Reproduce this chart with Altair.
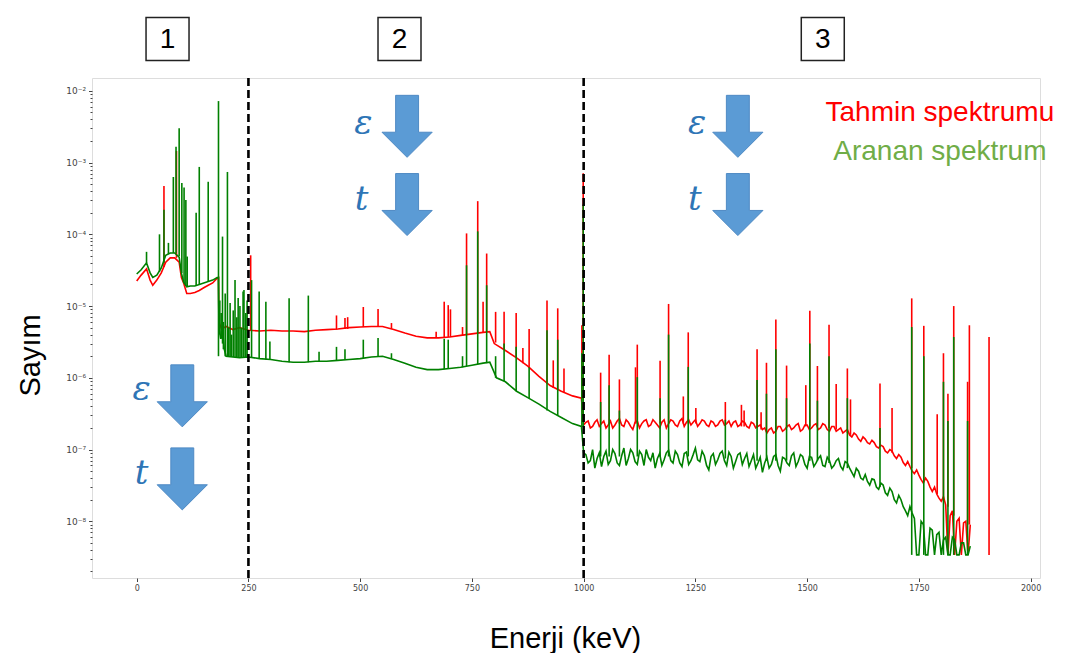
import altair as alt
import pandas as pd

# ---------------- data (energy in keV, counts) ----------------
E_LOW = [0, 10, 22, 30, 36, 45, 55, 65, 75, 85, 95, 100, 105, 112, 120, 130, 140, 150, 160, 170, 180, 183]
RED_LOW = [2.24e-5, 2.7e-5, 3.3e-5, 2.3e-5, 1.95e-5, 2.3e-5, 2.9e-5, 4.1e-5, 4.7e-5, 4.7e-5, 4.1e-5,
           2.5e-5, 2.1e-5, 1.5e-5, 1.5e-5, 1.55e-5, 1.65e-5, 1.8e-5, 1.95e-5, 2.1e-5, 2.45e-5, 2.5e-5]
GREEN_LOW = [2.8e-5, 3.2e-5, 4.0e-5, 2.9e-5, 2.5e-5, 2.7e-5, 3.4e-5, 5.1e-5, 5.5e-5, 5.5e-5, 4.8e-5,
             2.9e-5, 2.15e-5, 1.85e-5, 1.9e-5, 1.9e-5, 2.0e-5, 2.1e-5, 2.2e-5, 2.3e-5, 2.5e-5, 2.5e-5]

E_MID_RED = [184, 190, 200, 215, 230, 250, 275, 300, 325, 350, 375, 400, 425, 450, 475, 500, 525, 550,
             575, 600, 625, 650, 675, 700, 725, 750, 775, 790, 800, 825, 850, 875, 900, 925, 950, 975, 995]
RED_MID = [6.0e-6, 4.8e-6, 5.2e-6, 4.7e-6, 5.0e-6, 4.6e-6, 4.5e-6, 4.6e-6, 4.5e-6, 4.5e-6, 4.4e-6, 4.6e-6,
           4.7e-6, 4.8e-6, 5.0e-6, 5.1e-6, 5.2e-6, 5.2e-6, 4.7e-6, 4.2e-6, 3.8e-6, 3.6e-6, 3.6e-6, 3.7e-6,
           3.9e-6, 4.1e-6, 4.3e-6, 4.4e-6, 3.0e-6, 2.4e-6, 1.9e-6, 1.45e-6, 1.05e-6, 7.8e-7, 6.5e-7, 5.6e-7, 5.2e-7]

E_MID_GREEN = [184, 188, 192, 196, 200, 215, 230, 250, 275, 300, 325, 350, 375, 400, 425, 450, 475, 500,
               525, 550, 575, 600, 625, 650, 675, 700, 725, 750, 775, 790, 805, 825, 850, 875, 900, 925,
               950, 975, 995]
GREEN_MID = [5.0e-6, 3.5e-6, 4.5e-6, 2.5e-6, 2.0e-6, 1.95e-6, 1.9e-6, 1.95e-6, 1.85e-6, 1.8e-6, 1.7e-6,
             1.65e-6, 1.65e-6, 1.7e-6, 1.7e-6, 1.75e-6, 1.8e-6, 1.85e-6, 1.95e-6, 2.0e-6, 1.8e-6, 1.6e-6,
             1.4e-6, 1.3e-6, 1.3e-6, 1.35e-6, 1.4e-6, 1.5e-6, 1.6e-6, 1.65e-6, 1.0e-6, 8.8e-7, 6.5e-7,
             5.3e-7, 4.3e-7, 3.4e-7, 2.8e-7, 2.3e-7, 2.1e-7]

# noisy high-energy part, read on a 5 keV grid (two interleaved lists)
E_HIGH_A = list(range(1000, 1870, 10))
E_HIGH_B = list(range(1005, 1870, 10))
RED_HIGH_A = [2.2e-7, 2.5e-7, 2.1e-7, 2.6e-7, 2.3e-7, 2.0e-7, 2.5e-7, 2.2e-7, 2.7e-7, 2.1e-7,
              2.4e-7, 1.9e-7, 2.5e-7, 2.3e-7, 2.6e-7, 2.2e-7, 2.4e-7, 2.0e-7, 2.6e-7, 2.3e-7,
              2.5e-7, 2.1e-7, 2.7e-7, 2.4e-7, 2.2e-7, 2.6e-7, 2.3e-7, 2.5e-7, 2.1e-7, 2.4e-7,
              2.2e-7, 2.6e-7, 2.3e-7, 2.1e-7, 2.5e-7, 2.2e-7, 2.4e-7, 2.0e-7, 2.3e-7, 2.1e-7,
              1.9e-7, 1.7e-7, 2.0e-7, 1.8e-7, 2.1e-7, 1.9e-7, 2.2e-7, 2.0e-7, 2.3e-7, 1.9e-7,
              2.2e-7, 2.0e-7, 2.3e-7, 2.0e-7, 2.2e-7, 1.8e-7, 2.1e-7, 1.9e-7, 1.7e-7, 1.9e-7,
              1.5e-7, 1.6e-7, 1.3e-7, 1.4e-7, 1.2e-7, 1.25e-7, 1.05e-7, 1.1e-7, 9.0e-8, 9.5e-8,
              7.5e-8, 7.8e-8, 6.0e-8, 5.8e-8, 4.6e-8, 4.4e-8, 3.4e-8, 3.6e-8, 2.6e-8, 2.4e-8,
              1.9e-8, 1.7e-8, 1.2e-8, 3.4e-9, 1.1e-8, 9.5e-9, 3.4e-9]
RED_HIGH_B = [2.4e-7, 2.0e-7, 2.4e-7, 2.1e-7, 2.5e-7, 2.2e-7, 2.0e-7, 2.5e-7, 2.2e-7, 2.6e-7,
              2.1e-7, 2.4e-7, 2.0e-7, 2.5e-7, 2.1e-7, 2.6e-7, 2.2e-7, 2.4e-7, 2.0e-7, 2.6e-7,
              2.2e-7, 2.5e-7, 2.1e-7, 2.6e-7, 2.4e-7, 2.1e-7, 2.6e-7, 2.2e-7, 2.5e-7, 2.1e-7,
              2.5e-7, 2.2e-7, 2.5e-7, 2.4e-7, 2.1e-7, 2.5e-7, 2.1e-7, 2.4e-7, 2.0e-7, 2.2e-7,
              2.0e-7, 1.9e-7, 1.7e-7, 2.1e-7, 1.8e-7, 2.1e-7, 1.9e-7, 2.2e-7, 1.8e-7, 2.2e-7,
              1.9e-7, 2.2e-7, 1.9e-7, 2.3e-7, 1.9e-7, 2.1e-7, 1.8e-7, 2.0e-7, 1.8e-7, 1.6e-7,
              1.7e-7, 1.4e-7, 1.5e-7, 1.25e-7, 1.35e-7, 1.1e-7, 1.15e-7, 9.5e-8, 1.0e-7, 8.2e-8,
              8.5e-8, 6.6e-8, 6.8e-8, 5.0e-8, 5.2e-8, 3.8e-8, 4.0e-8, 3.0e-8, 3.0e-8, 2.1e-8,
              2.2e-8, 3.4e-9, 1.4e-8, 1.0e-8, 3.4e-9, 1.0e-8, 9.0e-9]
GREEN_HIGH_A = [9.0e-8, 6.5e-8, 1.0e-7, 7.5e-8, 5.8e-8, 9.5e-8, 7.0e-8, 8.8e-8, 6.0e-8, 1.05e-7,
                7.5e-8, 9.0e-8, 6.2e-8, 8.5e-8, 1.0e-7, 7.0e-8, 5.5e-8, 8.8e-8, 7.2e-8, 9.8e-8,
                6.5e-8, 8.5e-8, 5.8e-8, 9.2e-8, 7.0e-8, 1.05e-7, 6.8e-8, 8.2e-8, 5.2e-8, 8.8e-8,
                7.2e-8, 9.5e-8, 6.0e-8, 8.0e-8, 6.8e-8, 9.0e-8, 7.5e-8, 5.8e-8, 8.5e-8, 6.5e-8,
                4.8e-8, 7.8e-8, 6.2e-8, 8.5e-8, 5.0e-8, 7.5e-8, 6.0e-8, 9.0e-8, 6.8e-8, 8.0e-8,
                5.5e-8, 7.8e-8, 6.5e-8, 8.2e-8, 5.8e-8, 7.0e-8, 6.0e-8, 7.5e-8, 5.2e-8, 6.5e-8,
                4.8e-8, 5.5e-8, 4.0e-8, 4.5e-8, 3.2e-8, 3.8e-8, 2.8e-8, 3.2e-8, 2.3e-8, 2.6e-8,
                1.8e-8, 2.0e-8, 1.4e-8, 1.6e-8, 1.1e-8, 3.4e-9, 9.0e-9, 3.4e-9, 7.5e-9, 6.5e-9,
                3.4e-9, 6.0e-9, 3.4e-9, 5.5e-9, 3.4e-9, 5.0e-9, 3.4e-9]
GREEN_HIGH_B = [8.5e-8, 7.0e-8, 5.5e-8, 9.0e-8, 8.0e-8, 6.2e-8, 1.0e-7, 6.5e-8, 8.2e-8, 6.0e-8,
                1.0e-7, 6.8e-8, 9.5e-8, 6.0e-8, 7.8e-8, 9.0e-8, 7.5e-8, 6.0e-8, 9.0e-8, 7.0e-8,
                9.5e-8, 6.5e-8, 8.8e-8, 6.2e-8, 8.5e-8, 7.2e-8, 9.5e-8, 6.0e-8, 8.0e-8, 6.2e-8,
                8.8e-8, 7.0e-8, 9.2e-8, 5.5e-8, 8.5e-8, 6.2e-8, 8.8e-8, 7.0e-8, 5.5e-8, 7.8e-8,
                6.5e-8, 5.5e-8, 8.0e-8, 6.0e-8, 7.8e-8, 6.5e-8, 8.2e-8, 5.8e-8, 8.5e-8, 6.2e-8,
                8.0e-8, 5.8e-8, 7.5e-8, 6.0e-8, 7.8e-8, 5.5e-8, 7.0e-8, 5.8e-8, 6.8e-8, 5.5e-8,
                4.2e-8, 5.0e-8, 3.8e-8, 3.6e-8, 3.9e-8, 3.0e-8, 3.4e-8, 2.5e-8, 2.9e-8, 2.0e-8,
                2.3e-8, 1.6e-8, 1.2e-8, 1.3e-8, 3.4e-9, 1.0e-8, 3.4e-9, 8.0e-9, 3.4e-9, 7.0e-9,
                5.5e-9, 3.4e-9, 6.0e-9, 3.4e-9, 5.0e-9, 3.4e-9, 4.5e-9]

# peaks: energy, top, base
RED_PEAK_E = [61, 89, 255, 447, 466, 472, 507, 540, 570, 670, 688, 697, 702, 729, 738, 763, 775, 783,
              803, 822, 849, 864, 878, 918, 932, 942, 956, 996, 999,
              1038, 1057, 1080, 1116, 1120, 1171, 1190, 1223, 1234, 1251, 1317, 1353, 1359, 1388, 1397,
              1409, 1430, 1454, 1497, 1506, 1523, 1549, 1565, 1590, 1597, 1663, 1690, 1734, 1761, 1791,
              1805, 1815, 1828, 1859, 1863, 1907]
RED_PEAK_TOP = [4.7e-4, 1.45e-3, 5.1e-5, 7.4e-6, 6.8e-6, 7.0e-6, 9.7e-6, 9.1e-6, 5.8e-6, 4.4e-6, 1.15e-5,
                1.03e-5, 9.0e-6, 5.1e-6, 1.03e-4, 2.9e-4, 1.15e-5, 5.4e-5,
                8.3e-6, 8.3e-6, 8.0e-6, 2.6e-6, 4.8e-6, 1.2e-5, 1.75e-6, 9.3e-6, 1.35e-6, 5.4e-6, 7.1e-4,
                1.18e-6, 2.1e-6, 9.5e-7, 1.4e-6, 2.9e-6, 1.73e-6, 1.07e-5, 5.5e-7, 4.3e-6, 3.8e-7, 4.6e-7,
                4.2e-7, 3.5e-7, 2.5e-6, 3.3e-7,
                1.62e-6, 6.5e-6, 1.48e-6, 7.9e-7, 8.6e-6, 1.46e-6, 5.5e-6, 8.2e-7, 1.35e-6, 5.0e-7, 8.3e-7,
                3.8e-7, 1.28e-5, 5.3e-6, 3.1e-7,
                2.2e-6, 6.0e-7, 1.0e-5, 8.8e-7, 5.4e-6, 3.7e-6]
RED_PEAK_BASE = [3.5e-5, 4.7e-5, 4.6e-6, 4.7e-6, 4.8e-6, 4.8e-6, 5.1e-6, 5.2e-6, 4.8e-6, 3.6e-6, 3.6e-6,
                 3.7e-6, 3.7e-6, 3.9e-6, 4.0e-6, 4.2e-6, 4.3e-6, 4.4e-6,
                 3.1e-6, 2.5e-6, 1.9e-6, 1.6e-6, 1.4e-6, 8.2e-7, 7.2e-7, 6.8e-7, 6.2e-7, 5.0e-7, 5.0e-7,
                 2.3e-7, 2.3e-7, 2.3e-7, 2.3e-7, 2.3e-7, 2.3e-7, 2.3e-7, 2.3e-7, 2.3e-7, 2.3e-7, 2.2e-7,
                 2.1e-7, 2.1e-7, 2.0e-7, 1.9e-7,
                 1.8e-7, 1.9e-7, 2.0e-7, 2.1e-7, 2.1e-7, 2.1e-7, 2.0e-7, 1.9e-7, 1.7e-7, 1.6e-7, 1.1e-7,
                 9.0e-8, 5.5e-8, 3.8e-8, 2.4e-8,
                 1.9e-8, 1.6e-8, 1.2e-8, 9.0e-9, 9.0e-9, 3.4e-9]

GREEN_PEAK_E = [22, 51, 61, 71, 82, 88, 95, 101, 106, 110, 113, 133, 140, 160, 183, 186, 189, 192, 194,
                198, 203, 206, 209, 212, 216, 220, 224, 227,
                231, 234, 238, 240, 244, 247, 257, 274, 289, 298, 341, 384, 408, 447, 466, 507, 540, 570,
                688, 697, 729,
                738, 763, 783, 803, 822, 849, 878, 918, 942, 996, 999,
                1038, 1057, 1080, 1120, 1171, 1190, 1234, 1317, 1388, 1409, 1430, 1454, 1506, 1523, 1549,
                1590, 1663, 1734, 1761, 1805, 1815, 1828, 1859]
GREEN_PEAK_TOP = [5.7e-5, 1.0e-4, 2.2e-4, 7.6e-5, 6.3e-4, 1.66e-3, 3.0e-3, 5.2e-4, 4.5e-4, 3.0e-4, 4.9e-5,
                  2.0e-4, 8.7e-4, 5.4e-4, 7.2e-3, 1.2e-5, 8.0e-6, 9.3e-5, 6.0e-6,
                  1.5e-5, 7.4e-4, 5.0e-6, 1.1e-5, 4.0e-6, 8.7e-6, 2.3e-5, 7.0e-6, 1.3e-5,
                  1.0e-5, 5.0e-6, 1.6e-5, 1.67e-5, 8.0e-6, 1.2e-5, 2.3e-5, 1.6e-5, 1.15e-5, 3.2e-6,
                  1.28e-5, 1.4e-5, 2.3e-6, 2.7e-6, 2.5e-6, 3.4e-6, 3.6e-6, 2.2e-6,
                  3.5e-6, 3.4e-6, 2.0e-6,
                  3.7e-5, 1.1e-4, 1.95e-5, 2.0e-6, 3.0e-6, 2.7e-6, 1.4e-6, 4.6e-6, 3.4e-6, 2.2e-6, 2.6e-4,
                  4.6e-7, 7.9e-7, 3.5e-7, 1.02e-6, 5.2e-7, 4.0e-6, 1.42e-6, 2.6e-7, 9.3e-7, 6.0e-7, 2.5e-6,
                  5.2e-7, 3.0e-6, 4.8e-7, 2.0e-6,
                  5.2e-7, 2.0e-7, 5.1e-6, 2.0e-6, 8.8e-7, 2.5e-7, 3.7e-6, 2.5e-7]
GREEN_PEAK_BASE = [4.0e-5, 3.0e-5, 4.0e-5, 5.3e-5, 5.5e-5, 5.5e-5, 5.0e-5, 2.9e-5, 2.1e-5, 1.9e-5, 1.85e-5,
                   1.9e-5, 2.0e-5, 2.2e-5, 2.0e-6, 4.0e-6, 3.5e-6, 3.0e-6, 2.5e-6,
                   2.0e-6, 2.0e-6, 2.0e-6, 2.0e-6, 1.95e-6, 1.95e-6, 1.95e-6, 1.95e-6, 1.9e-6,
                   1.9e-6, 1.9e-6, 1.9e-6, 1.9e-6, 1.9e-6, 1.95e-6, 1.95e-6, 1.85e-6, 1.8e-6, 1.8e-6,
                   1.65e-6, 1.65e-6, 1.7e-6, 1.75e-6, 1.8e-6, 1.85e-6, 2.0e-6, 1.85e-6,
                   1.32e-6, 1.35e-6, 1.4e-6,
                   1.45e-6, 1.55e-6, 1.6e-6, 1.0e-6, 9.0e-7, 6.5e-7, 5.2e-7, 3.5e-7, 3.0e-7, 2.1e-7, 2.1e-7,
                   8.0e-8, 8.0e-8, 8.0e-8, 8.0e-8, 8.0e-8, 8.0e-8, 8.0e-8, 7.5e-8, 7.0e-8, 7.0e-8, 7.0e-8,
                   7.0e-8, 7.0e-8, 7.0e-8, 6.5e-8,
                   5.5e-8, 3.0e-8, 3.4e-9, 3.4e-9, 3.4e-9, 3.4e-9, 3.4e-9, 3.4e-9]

REGION_BOUNDS = [250, 1000]
BOX_E = [69, 588, 1535]
BOX_LABELS = ["1", "2", "3"]
ARROW_E = [102, 102, 605, 605, 1345, 1345]
ARROW_C = [5.6e-7, 3.9e-8, 3.2e-3, 2.6e-4, 3.2e-3, 2.6e-4]
SYM_E = [11, 11, 507, 503, 1254, 1249]
SYM_C = [6.8e-7, 4.6e-8, 3.5e-3, 3.0e-4, 3.5e-3, 3.0e-4]
SYM_TEXT = ["ε", "t", "ε", "t", "ε", "t"]
LEGEND_TEXT = ["Tahmin spektrumu", "Aranan spektrum"]
LEGEND_E = [1797, 1797]
LEGEND_C = [4.9e-3, 1.4e-3]
LEGEND_COLORS = ["#ff0000", "#70ad47"]

RED = "#ff0000"
GREEN = "#008000"

# ---------------- tables ----------------
red_line = pd.DataFrame({
    "energy": E_LOW + E_MID_RED + E_HIGH_A + E_HIGH_B,
    "count": RED_LOW + RED_MID + RED_HIGH_A + RED_HIGH_B}).sort_values("energy")
green_line = pd.DataFrame({
    "energy": E_LOW + E_MID_GREEN + E_HIGH_A + E_HIGH_B,
    "count": GREEN_LOW + GREEN_MID + GREEN_HIGH_A + GREEN_HIGH_B}).sort_values("energy")
red_peaks = pd.DataFrame({"energy": RED_PEAK_E, "count": RED_PEAK_TOP, "base": RED_PEAK_BASE})
green_peaks = pd.DataFrame({"energy": GREEN_PEAK_E, "count": GREEN_PEAK_TOP, "base": GREEN_PEAK_BASE})
bounds = pd.DataFrame({"energy": REGION_BOUNDS})
boxes = pd.DataFrame({"energy": BOX_E, "label": BOX_LABELS})
arrows = pd.DataFrame({"energy": ARROW_E, "count": ARROW_C})
syms = pd.DataFrame({"energy": SYM_E, "count": SYM_C, "label": SYM_TEXT})
legend = pd.DataFrame({"energy": LEGEND_E, "count": LEGEND_C, "label": LEGEND_TEXT, "color": LEGEND_COLORS})

# ---------------- scales / axes ----------------
xs = alt.Scale(domain=[-100, 2021], nice=False, zero=False)
ys = alt.Scale(type="log", domain=[1.62e-9, 0.0151], nice=False)

is_dec = "abs(log(datum.value)/LN10 - round(log(datum.value)/LN10)) < 0.001"
exp_ = "round(log(datum.value)/LN10)"
label_expr = (f"{is_dec} ? '10' + ({exp_} < 0 ? '⁻' : '') + "
              f"['⁰','¹','²','³','⁴','⁵','⁶','⁷','⁸','⁹'][abs({exp_})] : ''")
y_ticks = [m * 10.0 ** k for k in range(-9, -1) for m in range(1, 10) if 1.62e-9 <= m * 10.0 ** k <= 0.0151]

xaxis = alt.Axis(values=[0, 250, 500, 750, 1000, 1250, 1500, 1750, 2000], format="d", grid=False,
                 domain=False, labelFont="DejaVu Sans", labelFontSize=8, labelColor="#444",
                 tickColor="#444", tickSize=3.5, labelPadding=3, title="Enerji (keV)",
                 titleFont="Liberation Sans", titleFontSize=29, titleFontWeight="normal", titleColor="black",
                 titleX=473, titleY=60, titleAlign="center", titleBaseline="middle")
yaxis = alt.Axis(values=y_ticks, labelExpr=label_expr, grid=False, domain=False, labelOverlap=False,
                 labelFont="DejaVu Sans", labelFontSize=9, labelColor="#444", tickColor="#444",
                 tickSize={"condition": {"test": is_dec, "value": 3.5}, "value": 2},
                 labelPadding=3, title="Sayım", titleFont="Liberation Sans", titleFontSize=29,
                 titleFontWeight="normal", titleColor="black", titleAngle=270, titleX=-62, titleY=277,
                 titleAlign="center", titleBaseline="middle")

X = alt.X("energy:Q", scale=xs, axis=xaxis)
Y = alt.Y("count:Q", scale=ys, axis=yaxis)

red_l = alt.Chart(red_line).mark_line(color=RED, strokeWidth=1.6, clip=True).encode(x=X, y=Y, order="energy:Q")
red_p = alt.Chart(red_peaks).mark_rule(color=RED, strokeWidth=1.6).encode(x=X, y=Y, y2="base:Q")
green_l = alt.Chart(green_line).mark_line(color=GREEN, strokeWidth=1.6, clip=True).encode(x=X, y=Y, order="energy:Q")
green_p = alt.Chart(green_peaks).mark_rule(color=GREEN, strokeWidth=1.6).encode(x=X, y=Y, y2="base:Q")

dash = alt.Chart(bounds).mark_rule(color="black", strokeWidth=2.6, strokeDash=[8, 4]).encode(x=X)

box_sq = alt.Chart(boxes).mark_point(shape="square", size=44 * 42, filled=False, stroke="#222",
                                     strokeWidth=1.5, opacity=1).encode(x=X, y=alt.value(-39))
box_tx = alt.Chart(boxes).mark_text(font="Liberation Sans Narrow, Liberation Sans", fontSize=28,
                                    color="black", baseline="middle").encode(x=X, y=alt.value(-38), text="label:N")

arrow_path = "M -0.37 -1 L 0.37 -1 L 0.37 0.19 L 0.81 0.19 L 0 1 L -0.81 0.19 L -0.37 0.19 Z"
arr = alt.Chart(arrows).mark_point(shape=arrow_path, size=62 * 62, filled=True, fill="#5b9bd5",
                                   stroke="#4f8ac4", strokeWidth=1, opacity=1).encode(x=X, y=Y)
sym = alt.Chart(syms).mark_text(font="DejaVu Serif", fontStyle="italic", fontSize=34, color="#2e75b6",
                                baseline="middle").encode(x=X, y=Y, text="label:N")
leg = alt.Chart(legend).mark_text(font="Liberation Sans", fontSize=28, baseline="middle").encode(
    x=X, y=Y, text="label:N", color=alt.Color("color:N", scale=None))

chart = alt.layer(red_l, red_p, green_l, green_p, dash, box_sq, box_tx, arr, sym, leg).properties(
    width=948, height=500,
    autosize=alt.AutoSizeParams(type="none"),
    padding={"left": 84, "top": 70, "right": 15, "bottom": 75},
).configure_view(stroke="#555", strokeWidth=1).configure(background="white")

chart.save("out.html", embed_options={"renderer": "svg", "actions": False})
